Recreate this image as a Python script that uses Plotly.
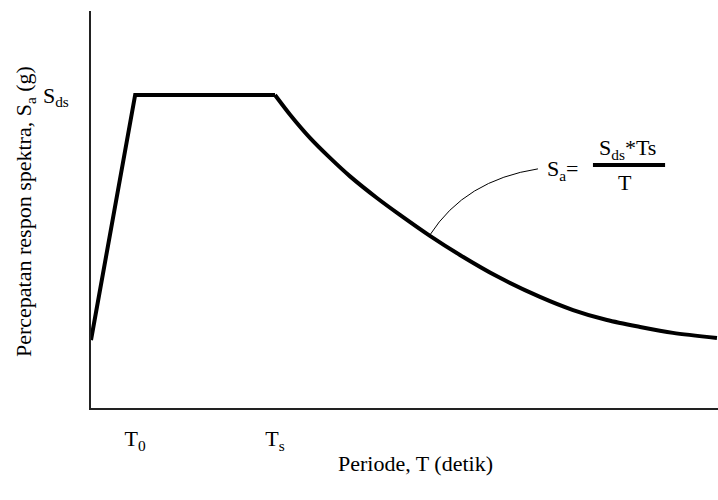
import plotly.graph_objects as go

# ---- data ----
T0 = 0.24
Ts = 1.0
Sds = 1.0
Sa_at_zero = 0.217

# linear ramp + plateau
ramp_T = [0.0, T0, Ts]
ramp_Sa = [Sa_at_zero, Sds, Sds]

# descending branch
desc_T = [1.0, 1.082, 1.190, 1.299, 1.408, 1.554, 1.679, 1.842, 2.005, 2.212,
          2.440, 2.620, 2.804, 2.984, 3.163, 3.402]
desc_Sa = [1.0, 0.937, 0.863, 0.799, 0.740, 0.671, 0.617, 0.550, 0.489, 0.419,
           0.355, 0.313, 0.281, 0.259, 0.240, 0.224]

x_tick_vals = [T0, Ts]
x_tick_text = ["T<sub>0</sub>", "T<sub>s</sub>"]
y_tick_vals = [Sds]
y_tick_text = ["S<sub>ds</sub>"]

x_title = "Periode, T (detik)"
y_title = "Percepatan respon spektra, S<sub>a</sub> (g)"

FONT = "Times New Roman, Liberation Serif, serif"
FS = 22

fig = go.Figure()
fig.add_trace(go.Scatter(x=ramp_T, y=ramp_Sa, mode="lines",
                         line=dict(color="black", width=4), showlegend=False,
                         hoverinfo="skip"))
fig.add_trace(go.Scatter(x=desc_T, y=desc_Sa, mode="lines",
                         line=dict(color="black", width=4, shape="spline", smoothing=0.8),
                         showlegend=False, hoverinfo="skip"))

# leader curve from curve to formula
fig.add_shape(type="path", xref="x", yref="y",
              path="M 1.842,0.553 Q 2.033,0.728 2.429,0.764",
              line=dict(color="black", width=1))
# fraction bar
fig.add_shape(type="line", xref="x", yref="y",
              x0=2.728, x1=3.120, y0=0.776, y1=0.776,
              line=dict(color="black", width=4))

ann_font = dict(family=FONT, size=FS, color="black")
fig.add_annotation(x=2.565, y=0.760, xref="x", yref="y", showarrow=False,
                   xanchor="center", yanchor="middle",
                   text="S<sub>a</sub>=", font=ann_font)
fig.add_annotation(x=2.918, y=0.828, xref="x", yref="y", showarrow=False,
                   xanchor="center", yanchor="middle",
                   text="S<sub>ds</sub>*Ts", font=ann_font)
fig.add_annotation(x=2.902, y=0.720, xref="x", yref="y", showarrow=False,
                   xanchor="center", yanchor="middle",
                   text="T", font=ann_font)

# axis titles as annotations
fig.add_annotation(x=(415 - 91) / 627, y=-55 / 397, xref="paper", yref="paper",
                   xanchor="center", yanchor="middle",
                   showarrow=False, text=x_title, font=ann_font)
fig.add_annotation(x=-66 / 627, y=(408 - 212) / 397, xref="paper", yref="paper",
                   xanchor="center", yanchor="middle",
                   showarrow=False, text=y_title, textangle=-90, font=ann_font)

fig.update_layout(
    width=718, height=500,
    margin=dict(l=91, r=0, t=11, b=92),
    paper_bgcolor="white", plot_bgcolor="white",
    font=dict(family=FONT, size=FS, color="black"),
    xaxis=dict(range=[0, 3.4076], showgrid=False, zeroline=False,
               showline=True, linecolor="#222", linewidth=2,
               tickvals=x_tick_vals, ticktext=x_tick_text, ticks="",
               ticklabelstandoff=10, fixedrange=True,
               tickfont=dict(family=FONT, size=FS, color="black")),
    yaxis=dict(range=[0, 397 / 313], showgrid=False, zeroline=False,
               showline=True, linecolor="#222", linewidth=1.5,
               tickvals=y_tick_vals, ticktext=y_tick_text, ticks="",
               ticklabelstandoff=16, fixedrange=True,
               tickfont=dict(family=FONT, size=FS, color="black")),
)

fig.write_html("out.html", config={"displayModeBar": False},
               post_script="document.body.style.margin='0';")
